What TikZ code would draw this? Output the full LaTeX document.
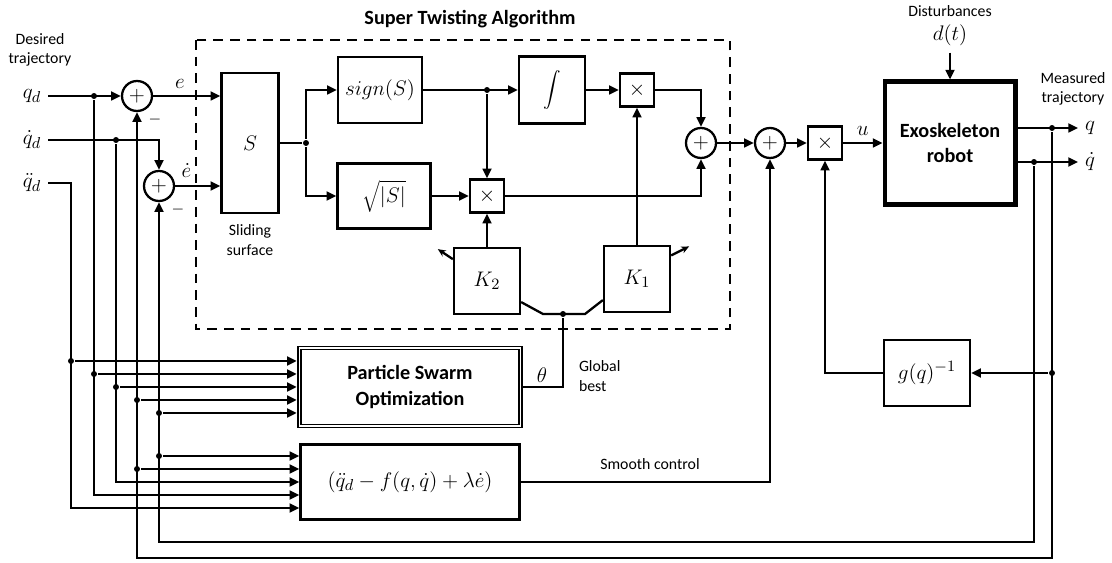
\documentclass[tikz,border=0pt]{standalone}
\usepackage[no-math]{fontspec}
\setmainfont{Carlito}
\usetikzlibrary{arrows.meta}

\begin{document}
\begin{tikzpicture}[x=0.02cm, y=-0.02cm, line width=1.3pt,
    >={Triangle[length=5.5pt,width=5pt]},
    blk/.style={draw, inner sep=0pt, font=\fontsize{12.5}{14}\selectfont},
    sumnode/.style={draw, circle, minimum size=0.6cm, inner sep=0pt, font=\fontsize{13}{14}\selectfont},
    mul/.style={draw, minimum width=0.68cm, minimum height=0.66cm, inner sep=0pt, font=\fontsize{12}{12}\selectfont},
    junc/.style={circle, fill, inner sep=1.2pt},
    lbl/.style={font=\fontsize{9}{11}\selectfont, align=center},
    hdr/.style={font=\fontsize{11.5}{14.5}\selectfont\bfseries, align=center},
    mth/.style={font=\fontsize{13}{14}\selectfont}]

        \useasboundingbox (0,0) rectangle (1112,563);

        % Desired trajectory and error sums
        \node[lbl] (desired) at (40,50) {Desired\\trajectory};
        \node[mth] (qd) at (32,96) {$q_d$};
        \node[mth] (qdd) at (32,140) {$\dot{q}_d$};
        \node[mth] (qddd) at (32,183) {$\ddot{q}_d$};
        \node[sumnode] (sum1) at (137,96) {$+$};
        \node[sumnode] (sum2) at (159,186) {$+$};
        \node[lbl] (minus1) at (155,120) {$-$};
        \node[lbl] (minus2) at (178,210) {$-$};

        % Super twisting algorithm
        \draw[dash pattern=on 5.5pt off 4pt] (196,40) rectangle (730,329);
        \node[hdr] (sta) at (470,19) {Super Twisting Algorithm};
        \node[blk, minimum width=1.14cm, minimum height=2.8cm] (S) at (250,143) {$S$};
        \node[lbl] (sliding) at (250,240) {Sliding\\surface};
        \node[blk, minimum width=1.68cm, minimum height=1.32cm] (sign) at (380,90) {$sign(S)$};
        \node[blk, minimum width=1.86cm, minimum height=1.3cm] (sqrtS) at (384,196) {$\sqrt{|S|}$};
        \node[blk, minimum width=1.32cm, minimum height=1.34cm] (integ) at (552,90) {$\displaystyle\int$};
        \node[mul] (mult1) at (637,90) {$\times$};
        \node[mul] (mult2) at (487,196) {$\times$};
        \node[sumnode] (sum3) at (701,143) {$+$};
        \node[blk, minimum size=1.32cm] (K2) at (487,281) {$K_2$};
        \node[blk, minimum size=1.32cm] (K1) at (637,279) {$K_1$};
        \node[junc] (jS) at (306,143) {};
        \node[junc] (jsign) at (487,90) {};
        \node[junc] (jK) at (563,314) {};
        \coordinate (kl) at (543,314);
        \coordinate (kr) at (585,314);

        % PSO and smooth control
        \node[hdr, draw, double, double distance=1.1pt, line width=0.8pt, minimum width=4.42cm, minimum height=1.56cm, inner sep=0pt] (pso) at (410,387) {Particle Swarm\\Optimization};
        \node[mth] (theta) at (542,375) {$\theta$};
        \node[lbl, anchor=west, align=left] (gbest) at (572,376) {Global\\best};
        \node[blk, minimum width=4.38cm, minimum height=1.5cm] (smooth) at (410,482) {$(\ddot{q}_d - f(q,\dot{q}) + \lambda\dot{e})$};
        \node[lbl] (smoothlbl) at (650,464) {Smooth control};

        % Plant side
        \node[sumnode] (sum4) at (770,143) {$+$};
        \node[mul] (mult3) at (825,143) {$\times$};
        \node[hdr, draw, line width=2.3pt, minimum width=2.62cm, minimum height=2.46cm, inner sep=0pt] (exo) at (950,143) {Exoskeleton\\robot};
        \node[lbl] (dist) at (950,11) {Disturbances};
        \node[mth] (dt) at (950,35) {$d(t)$};
        \node[lbl] (measured) at (1073,89) {Measured\\trajectory};
        \node[mth, anchor=west] (qout) at (1078,128) {$q$};
        \node[mth, anchor=west] (qdout) at (1078,162) {$\dot{q}$};
        \node[blk, minimum width=1.72cm, minimum height=1.32cm] (ginv) at (927,373) {$g(q)^{-1}$};

        % Branch points
        \node[junc] (jq) at (1052,128) {};
        \node[junc] (jqdot) at (1034,162) {};
        \node[junc] (jg) at (1052,373) {};
        \node[junc] (jqd) at (94,96) {};
        \node[junc] (jqdd) at (116,140) {};
        \node[junc] (pa) at (71,361) {};
        \node[junc] (pb) at (94,374) {};
        \node[junc] (pc) at (116,387) {};
        \node[junc] (pd) at (137,400) {};
        \node[junc] (pe) at (159,413) {};
        \node[junc] (se) at (159,456) {};
        \node[junc] (sd) at (137,469) {};
        \coordinate (c3) at (116,482);
        \coordinate (c2) at (94,495);
        \coordinate (c1) at (71,508);
        \coordinate (qbot) at (1052,558);
        \coordinate (qdbot) at (1034,542);

        % Input buses
        \draw[->] (qd) -- (sum1);
        \draw[->] (qdd) -| (sum2);
        \draw[->] (qddd) -| (c1) -- (smooth.west |- c1);
        \draw[->] (jqd) -- (c2) -- (smooth.west |- c2);
        \draw[->] (jqdd) -- (c3) -- (smooth.west |- c3);
        \foreach \j in {pa,pb,pc,pd,pe}
            \draw[->, shorten >=1.2pt] (\j) -- (pso.west |- \j);
        \foreach \j in {se,sd}
            \draw[->] (\j) -- (smooth.west |- \j);

        % Errors into the sliding surface
        \draw[->] (sum1) -- node[mth, above, pos=0.4] (elbl) {$e$} (S.west |- sum1);
        \draw[->] (sum2) -- node[mth, above=1pt, pos=0.25] (edlbl) {$\dot{e}$} (S.west |- sum2);

        % Inside the super twisting block
        \draw (S) -- (jS);
        \draw[->] (jS) |- (sign);
        \draw[->] (jS) |- (sqrtS);
        \draw[->] (sign) -- (integ);
        \draw[->] (jsign) -- (mult2);
        \draw[->] (sqrtS) -- (mult2);
        \draw[->] (integ) -- (mult1);
        \draw[->] (mult1) -| (sum3);
        \draw[->] (mult2) -| (sum3);
        \draw[->] (K2) -- (mult2);
        \draw[->] (K1) -- (mult1);
        \draw[-{Stealth[length=4.5pt,width=4pt]}] ([yshift=-7pt]K2.north west) -- ++(-15,-10);
        \draw[-{Stealth[length=4.5pt,width=4pt]}] ([yshift=-6pt]K1.north east) -- ++(18,-9);
        \draw ([yshift=-12pt]K2.east) -- (kl) -- (kr) -- ([yshift=-12pt]K1.west);
        \draw (pso) -| (jK);

        % Control signal to the robot
        \draw[->] (sum3) -- (sum4);
        \draw[->] (sum4) -- (mult3);
        \draw[->] (mult3) -- node[mth, above] (ulbl) {$u$} (exo);
        \draw[->] (dt) -- (exo);
        \draw[->] (smooth) -| (sum4);
        \draw[->] (ginv) -| (mult3);

        % Outputs and feedback
        \draw[->] (exo.east |- jq) -- (qout);
        \draw[->] (exo.east |- jqdot) -- (qdout);
        \draw[->] (jq) -- (qbot) -| (sum1);
        \draw[->] (jqdot) -- (qdbot) -| (sum2);
        \draw[->] (jg) -- (ginv);
\end{tikzpicture}
\end{document}
